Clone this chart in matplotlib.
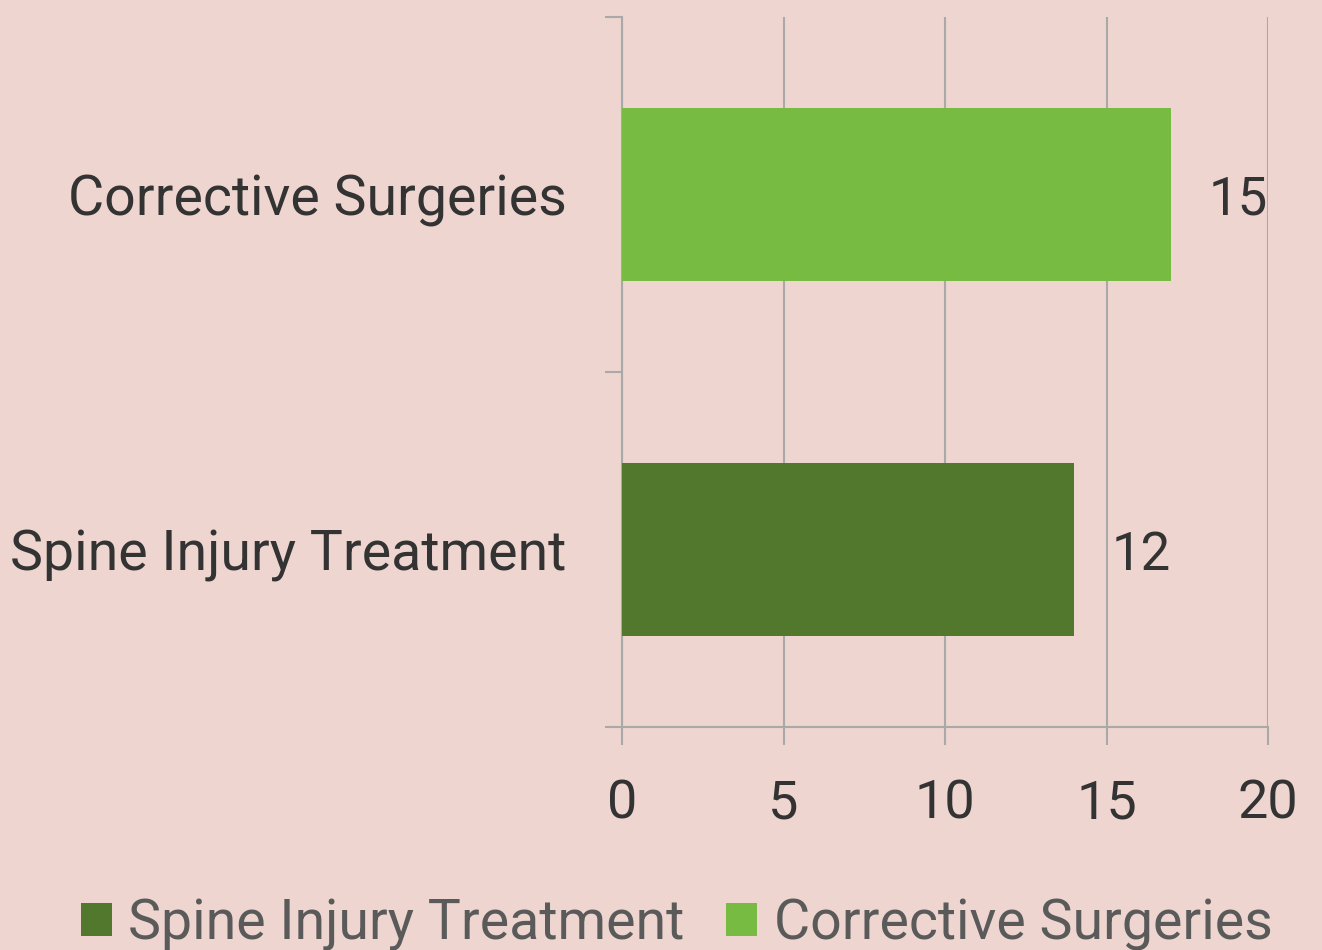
import matplotlib
matplotlib.use('Agg')
import matplotlib.pyplot as plt
from matplotlib.patches import Patch
from matplotlib.ticker import FixedLocator

# data
categories = ['Spine Injury Treatment', 'Corrective Surgeries']
bar_lengths = [14, 17]          # drawn length of the bars
bar_labels = ['12', '15']       # numbers printed next to the bars
bar_colors = ['#52782e', '#78bb43']
x_ticks = [0, 5, 10, 15, 20]

bg = '#eed5cf'
grid_col = '#a9a9a9'
txt_col = '#333333'
plt.rcParams['font.family'] = ['Roboto', 'DejaVu Sans']

fig = plt.figure(figsize=(13.22, 9.5), dpi=100, facecolor=bg)
ax = fig.add_axes([622 / 1322, 1 - 727 / 950, 646 / 1322, 710 / 950])
ax.set_facecolor(bg)

ypos = list(range(len(categories)))
ax.barh(ypos, bar_lengths, height=0.49, color=bar_colors, zorder=3)

for y, length, lab in zip(ypos, bar_lengths, bar_labels):
    ax.annotate(lab, xy=(length, y), xytext=(27, 0), textcoords='offset points',
                va='center_baseline', ha='left', fontsize=38, color=txt_col)

ax.set_xlim(0, 20)
ax.set_ylim(-0.5, 1.5)
ax.set_xticks(x_ticks)
ax.set_xticklabels([str(t) for t in x_ticks])
ax.set_yticks(ypos)
ax.set_yticklabels(categories)
ax.yaxis.set_minor_locator(FixedLocator([-0.5, 0.5, 1.5]))

ax.xaxis.grid(True, color=grid_col, linewidth=1.5, zorder=0)
ax.set_axisbelow(True)

for s in ['top', 'right']:
    ax.spines[s].set_visible(False)
for s in ['left', 'bottom']:
    ax.spines[s].set_color(grid_col)
    ax.spines[s].set_linewidth(1.5)

ax.tick_params(axis='x', which='major', length=13, width=1.5, color=grid_col,
               pad=24, labelsize=39, labelcolor=txt_col)
ax.tick_params(axis='y', which='major', length=0, pad=40,
               labelsize=40, labelcolor=txt_col)
ax.tick_params(axis='y', which='minor', length=12, width=1.5, color=grid_col)

handles = [Patch(facecolor=c, edgecolor='none') for c in bar_colors]
fig.legend(handles, categories, loc='center', bbox_to_anchor=(0.512, 1 - 924 / 950),
           ncol=2, frameon=False, fontsize=40, labelcolor='#5a5a5a',
           handlelength=0.55, handleheight=0.55, handletextpad=0.3,
           columnspacing=0.75)

fig.savefig('out.png', dpi=100, facecolor=bg)
